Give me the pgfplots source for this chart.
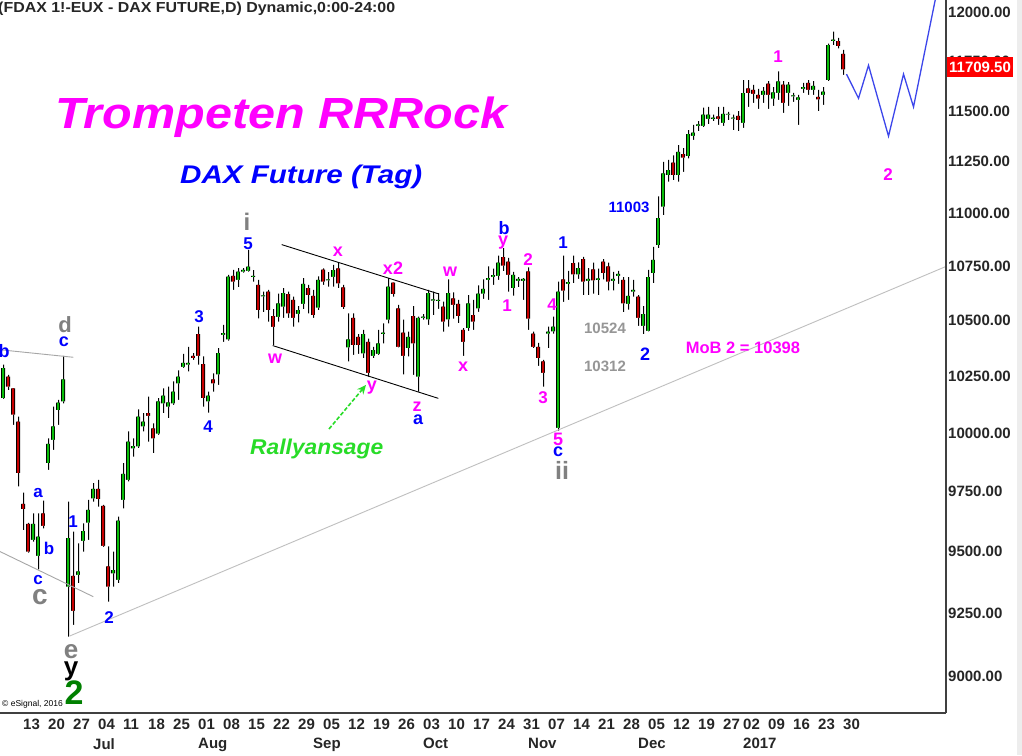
\documentclass[border=0pt]{standalone}
\usepackage{fontspec}
\setmainfont{Liberation Sans}
\usepackage{pgfplots}
\usepackage{pgfplotstable}
\pgfplotsset{compat=1.18}
\usetikzlibrary{arrows.meta}
\definecolor{cgreen}{RGB}{10,190,10}
\definecolor{cred}{RGB}{200,0,0}
\definecolor{mag}{RGB}{255,0,255}
\definecolor{wblue}{RGB}{0,0,255}
\definecolor{wgray}{RGB}{128,128,128}
\definecolor{lgray}{RGB}{150,150,150}
\definecolor{dgreen}{RGB}{0,128,0}
\definecolor{rgreen}{RGB}{40,220,40}
\definecolor{fblue}{RGB}{60,70,235}

\pgfplotstableread{
i o h l c
-4 10154 10302 10150 10287
-3 10250 10257 10190 10205
-2 10197 10197 10037 10081
-1 10052 10073 9773 9829
0 9699 9747 9590 9677
1 9615 9620 9497 9501
2 9549 9660 9542 9615
3 9483 9660 9428 9563
4 9660 9713 9597 9607
5 9872 9979 9843 9955
6 9972 10117 9929 10030
7 10102 10146 10037 10134
8 10139 10342 10132 10237
9 9358 9709 9157 9556
10 9401 9583 9204 9260
11 9405 9535 9372 9420
12 9545 9618 9501 9586
13 9621 9716 9549 9674
14 9723 9787 9709 9762
15 9762 9801 9688 9719
16 9691 9695 9520 9524
17 9440 9522 9297 9358
18 9412 9501 9358 9425
19 9385 9646 9372 9629
20 9716 9872 9681 9826
21 9801 10008 9794 9965
22 9935 9979 9900 9945
23 9944 10105 9937 10073
24 10030 10088 10008 10052
25 10088 10160 9965 10076
26 10022 10044 9915 9979
27 10001 10154 9994 10139
28 10132 10197 10088 10165
29 10117 10205 10066 10136
30 10132 10227 10124 10183
31 10219 10278 10146 10249
32 10292 10350 10288 10310
33 10302 10383 10272 10310
34 10342 10354 10324 10332
35 10440 10474 10302 10342
36 10305 10339 10117 10154
37 10139 10183 10091 10165
38 10237 10264 10183 10219
39 10260 10376 10212 10354
40 10435 10481 10405 10445
41 10416 10712 10410 10703
42 10706 10734 10642 10680
43 10688 10742 10654 10726
44 10726 10742 10722 10734
45 10730 10828 10726 10749
46 10700 10733 10680 10706
47 10665 10688 10511 10549
48 10612 10634 10540 10617
49 10634 10641 10496 10549
50 10522 10553 10390 10472
51 10518 10625 10496 10580
52 10565 10649 10514 10628
53 10622 10634 10514 10534
54 10595 10610 10474 10514
55 10531 10567 10492 10549
56 10577 10696 10553 10670
57 10649 10665 10534 10618
58 10614 10641 10514 10526
59 10560 10704 10549 10688
60 10735 10741 10665 10680
61 10686 10723 10657 10691
62 10702 10757 10657 10733
63 10741 10765 10649 10672
64 10653 10665 10553 10563
65 10380 10534 10317 10416
66 10514 10534 10346 10390
67 10428 10440 10350 10390
68 10353 10458 10332 10440
69 10405 10420 10250 10265
70 10341 10383 10332 10368
71 10350 10458 10346 10398
72 10440 10488 10398 10446
73 10504 10696 10488 10657
74 10676 10676 10610 10622
75 10557 10572 10380 10383
76 10446 10504 10260 10341
77 10376 10450 10339 10428
78 10522 10567 10257 10398
79 10250 10519 10183 10514
80 10514 10530 10505 10519
81 10507 10641 10481 10628
82 10593 10634 10526 10598
83 10590 10627 10555 10595
84 10565 10588 10450 10497
85 10507 10691 10474 10628
86 10603 10630 10510 10572
87 10577 10595 10490 10522
88 10458 10466 10342 10405
89 10466 10618 10455 10580
90 10526 10595 10458 10497
91 10557 10663 10541 10625
92 10625 10690 10600 10647
93 10688 10750 10595 10696
94 10702 10740 10665 10710
95 10706 10800 10688 10768
96 10794 10836 10728 10755
97 10773 10790 10634 10711
98 10650 10725 10616 10711
99 10684 10700 10655 10692
100 10684 10697 10595 10692
101 10727 10746 10458 10510
102 10443 10450 10376 10383
103 10383 10400 10298 10332
104 10317 10324 10205 10265
105 10442 10474 10376 10450
106 10452 10519 10443 10474
107 10024 10680 10013 10634
108 10691 10800 10587 10638
109 10669 10730 10595 10677
110 10765 10800 10673 10714
111 10714 10770 10693 10742
112 10784 10795 10618 10680
113 10684 10743 10618 10692
114 10737 10768 10625 10685
115 10687 10740 10618 10695
116 10773 10785 10690 10719
117 10750 10768 10640 10680
118 10684 10725 10640 10692
119 10707 10730 10670 10715
120 10688 10700 10540 10580
121 10577 10700 10550 10614
122 10633 10688 10610 10641
123 10610 10618 10476 10514
124 10476 10567 10440 10530
125 10455 10734 10452 10701
126 10719 10843 10673 10781
127 10850 11081 10836 10977
128 11033 11250 10993 11193
129 11185 11258 11153 11209
130 11245 11280 11160 11185
131 11185 11330 11153 11298
132 11286 11316 11200 11270
133 11276 11405 11265 11384
134 11376 11430 11356 11392
135 11427 11450 11400 11433
136 11425 11515 11420 11480
137 11460 11520 11435 11480
138 11459 11480 11450 11465
139 11472 11520 11430 11460
140 11440 11520 11425 11485
141 11480 11495 11455 11486
142 11461 11480 11405 11467
143 11475 11500 11400 11455
144 11440 11655 11415 11588
145 11613 11655 11520 11588
146 11605 11630 11540 11585
147 11580 11610 11510 11560
148 11580 11620 11540 11600
149 11637 11650 11510 11580
150 11560 11620 11525 11592
151 11590 11700 11555 11648
152 11632 11650 11490 11540
153 11590 11645 11525 11632
154 11572 11590 11545 11578
155 11555 11580 11430 11567
156 11610 11640 11590 11620
157 11640 11655 11580 11605
158 11605 11650 11580 11625
159 11570 11605 11500 11557
160 11580 11620 11530 11597
161 11655 11840 11650 11832
162 11852 11902 11832 11860
163 11852 11870 11815 11826
164 11787 11808 11680 11709.5
}\candles

\newcommand{\lab}[5]{\node[text=#3,font=\fontsize{#4}{#4}\selectfont\bfseries,inner sep=0pt] at (#1,#2) {#5};}

\pgfplotsset{
  cdl/.style={ybar, bar shift=0pt, draw=none, forget plot},
  wick/.style={ybar, bar shift=0.5pt, draw=none, forget plot},
  gf/.style={restrict expr to domain={\thisrow{c}-\thisrow{o}}{0:100000}},
  rf/.style={restrict expr to domain={\thisrow{o}-\thisrow{c}}{0.001:100000}},
}

\begin{document}
\begin{tikzpicture}[x=1pt,y=1pt]
\useasboundingbox (0,0) rectangle (1022,755);
\fill[white] (0,0) rectangle (1022,755);
\begin{axis}[
  at={(0pt,42pt)}, anchor=south west,
  width=946pt, height=713pt, scale only axis,
  xmin=-4.6, xmax=184.6,
  % logarithmic price scale, as in the reference
  y coord trafo/.code={\pgfmathparse{1000*ln(#1/8858.8)}},
  ymin=8858.8, ymax=12066,
  axis on top,
  axis x line*=bottom, axis y line*=right,
  axis line style={line width=1.3pt, black!75},
  major tick length=0pt,
  xtick={0,5,10,15,20,25,30,35,40,45,50,55,60,65,70,75,80,85,90,95,100,105,110,115,120,125,130,135,140,144,149,154,159,164},
  xticklabels={13,20,27,04,11,18,25,01,08,15,22,29,05,12,19,26,03,10,17,24,31,07,14,21,28,05,12,19,27,02,09,16,23,30},
  xticklabel style={anchor=north west, inner sep=0pt, yshift=-6pt, font=\fontsize{15}{15}\selectfont\bfseries, text=black!85},
  extra x ticks={14,35,58,80,101,123,144},
  extra x tick labels={Jul,Aug,Sep,Oct,Nov,Dec,2017},
  extra x tick style={xticklabel style={yshift=-19pt}},
  ytick={9000,9250,9500,9750,10000,10250,10500,10750,11000,11250,11500,11750,12000},
  yticklabels={9000.00,9250.00,9500.00,9750.00,10000.00,10250.00,10500.00,10750.00,11000.00,11250.00,11500.00,11750.00,12000.00},
  yticklabel style={anchor=west, inner sep=0pt, xshift=2pt, font=\fontsize{15}{15}\selectfont\bfseries, text=black!85},
  clip=true,
]
% candles, layered as bars rising from the bottom of the axis
\addplot[wick, bar width=1pt, fill=black] table[x=i, y=h] {\candles};
\addplot[cdl, gf, bar width=4pt, fill=black] table[x=i, y=c] {\candles};
\addplot[cdl, rf, bar width=4pt, fill=black] table[x=i, y=o] {\candles};
\addplot[cdl, gf, bar width=2pt, fill=cgreen] table[x=i, y=c] {\candles};
\addplot[cdl, rf, bar width=2pt, fill=cred] table[x=i, y=o] {\candles};
\addplot[cdl, gf, bar width=5.6pt, fill=white] table[x=i, y=o] {\candles};
\addplot[cdl, rf, bar width=5.6pt, fill=white] table[x=i, y=c] {\candles};
\addplot[wick, gf, bar width=1pt, fill=black] table[x=i, y=o] {\candles};
\addplot[wick, rf, bar width=1pt, fill=black] table[x=i, y=c] {\candles};
\addplot[wick, bar width=3.4pt, fill=white] table[x=i, y=l] {\candles};
% trend lines
\addplot[black!25, line width=0.9pt] coordinates {(9.4,9160) (184.6,10750)};
\addplot[black!35, line width=0.9pt] coordinates {(-4.6,10369) (10.06,10336)};
\addplot[black!35, line width=0.9pt] coordinates {(-4.6,9501) (14.06,9317)};
\addplot[black, line width=0.9pt] coordinates {(51.74,10852) (83.06,10623)};
\addplot[black, line width=0.9pt] coordinates {(49.94,10388) (83.06,10153)};
% forecast path
\addplot[fblue, line width=1.3pt] coordinates {(164.7,11684) (167.1,11563) (169.1,11729) (173.1,11375) (176.1,11684) (178.1,11519) (182.7,12100)};
\end{axis}
\begin{scope}[shift={(0pt,755pt)},y=-1pt]
\fill[black!7] (1017,0) rectangle (1022,755);
\node[anchor=base west,inner sep=0pt,text=black!85] at (-2,12.3) {\resizebox{397pt}{10.5pt}{\bfseries (FDAX 1!-EUX - DAX FUTURE,D) Dynamic,0:00-24:00}};
\node[anchor=base west,inner sep=0pt,text=mag] at (55,128.3) {\resizebox{452pt}{31.6pt}{\bfseries\itshape Trompeten RRRock}};
\node[anchor=base west,inner sep=0pt,text=wblue] at (180,183.3) {\resizebox{242pt}{18.5pt}{\bfseries\itshape DAX Future (Tag)}};
\node[anchor=base west,inner sep=0pt,text=rgreen] at (250,455) {\resizebox{133pt}{15.5pt}{\bfseries\itshape Rallyansage}};
\draw[rgreen, line width=1.6pt, dash pattern=on 4pt off 2pt, -{Stealth[length=9pt,width=8pt]}] (329,429) -- (366,385);
\lab{4}{351}{wblue}{18}{b}
\lab{65}{325}{wgray}{22}{d}
\lab{64}{342}{wblue}{18}{c}
\lab{38}{493}{wblue}{17}{a}
\lab{49}{548}{wblue}{17}{b}
\lab{38}{580}{wblue}{17}{c}
\lab{40}{597}{wgray}{28}{c}
\lab{71}{652}{wgray}{26}{e}
\lab{71}{671}{black}{26}{y}
\node[anchor=base west,font=\fontsize{8.5}{8.5}\selectfont,inner sep=0pt] at (2,706) {\textcopyright\ eSignal, 2016};
\lab{74}{693}{dgreen}{34}{2}
\lab{73}{522}{wblue}{17}{1}
\lab{109}{618}{wblue}{17}{2}
\lab{199}{317}{wblue}{17}{3}
\lab{208}{427}{wblue}{17}{4}
\lab{247}{222}{wgray}{24}{i}
\lab{248}{244}{wblue}{17}{5}
\lab{275}{359}{mag}{18}{w}
\lab{338}{252}{mag}{18}{x}
\lab{372}{388}{mag}{18}{y}
\lab{393}{268}{mag}{18}{x2}
\lab{417}{407}{mag}{18}{z}
\lab{418}{420}{wblue}{18}{a}
\lab{450}{272}{mag}{18}{w}
\lab{463}{367}{mag}{18}{x}
\lab{504}{228}{wblue}{18}{b}
\lab{503}{243}{mag}{18}{y}
\lab{507}{306}{mag}{17}{1}
\lab{528}{260}{mag}{17}{2}
\lab{552}{305}{mag}{17}{4}
\lab{543}{398}{mag}{17}{3}
\lab{558}{439}{mag}{18}{5}
\lab{558}{452}{wblue}{18}{c}
\lab{562}{470}{wgray}{25}{ii}
\lab{563}{243}{wblue}{17}{1}
\lab{605}{328}{lgray}{15}{10524}
\lab{605}{366}{lgray}{15}{10312}
\lab{645}{354}{wblue}{18}{2}
\lab{629}{207}{wblue}{15}{11003}
\lab{743}{348}{mag}{16.5}{MoB 2 = 10398}
\lab{778}{57}{mag}{17}{1}
\lab{888}{175}{mag}{17}{2}
\node[fill=red,text=white,font=\fontsize{15}{15}\selectfont\bfseries,inner sep=0pt,minimum width=66pt,minimum height=19.5pt] at (980,67) {11709.50};
\end{scope}
\end{tikzpicture}
\end{document}
